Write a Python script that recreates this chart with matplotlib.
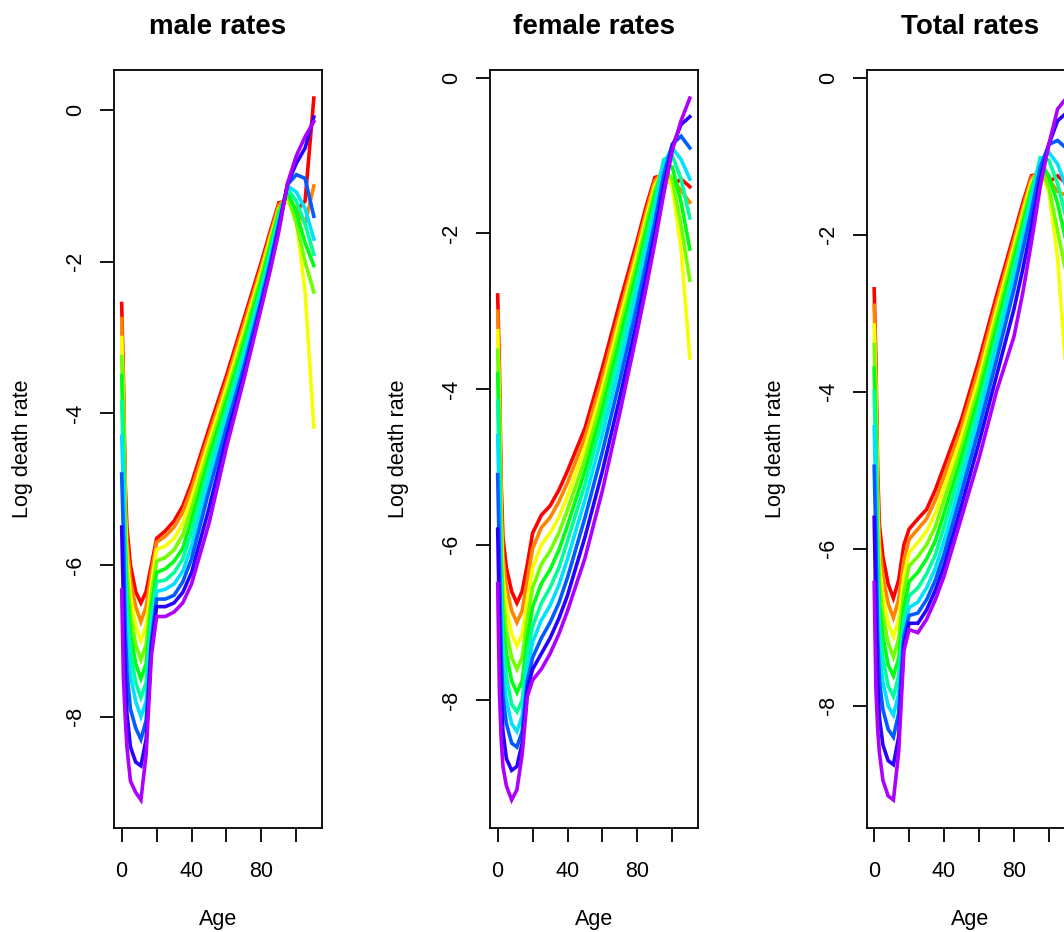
import numpy as np
import matplotlib.pyplot as plt
from matplotlib.colors import hsv_to_rgb

plt.rcParams['font.family'] = ['Liberation Sans', 'DejaVu Sans']

ages = [0, 1, 2, 3, 5, 8, 11, 14, 17, 20, 25, 30, 35, 40, 50, 60, 70, 80, 85, 90, 95, 100, 105, 110]

# log death rates, one row per period (earliest = red ... latest = purple)
male_rates = [
    [-2.55, -3.55, -4.9, -5.5, -6.0, -6.35, -6.5, -6.35, -6.0, -5.65, -5.55, -5.42, -5.22, -4.92, -4.2, -3.5, -2.75, -2.0, -1.6, -1.22, -1.2, -1.32, -1.2, 0.16],
    [-2.75, -3.7, -5.1, -5.7, -6.2, -6.55, -6.75, -6.55, -6.1, -5.7, -5.62, -5.5, -5.3, -5.0, -4.28, -3.58, -2.82, -2.06, -1.65, -1.25, -1.15, -1.3, -1.5, -1.0],
    [-3.0, -3.9, -5.3, -5.9, -6.4, -6.8, -7.0, -6.8, -6.25, -5.8, -5.75, -5.65, -5.45, -5.12, -4.37, -3.66, -2.9, -2.12, -1.7, -1.3, -1.18, -1.45, -2.4, -4.18],
    [-3.25, -4.1, -5.5, -6.1, -6.65, -7.05, -7.25, -7.05, -6.4, -5.95, -5.9, -5.8, -5.6, -5.25, -4.47, -3.75, -2.98, -2.18, -1.75, -1.32, -1.12, -1.5, -2.0, -2.4],
    [-3.5, -4.35, -5.75, -6.35, -6.9, -7.3, -7.5, -7.3, -6.55, -6.1, -6.05, -5.95, -5.78, -5.4, -4.58, -3.84, -3.07, -2.25, -1.8, -1.35, -1.08, -1.35, -1.75, -2.05],
    [-3.85, -4.65, -6.0, -6.6, -7.15, -7.55, -7.75, -7.55, -6.7, -6.22, -6.2, -6.1, -5.92, -5.57, -4.7, -3.94, -3.16, -2.33, -1.87, -1.4, -1.04, -1.2, -1.5, -1.9],
    [-4.3, -5.0, -6.35, -6.9, -7.45, -7.8, -8.0, -7.8, -6.85, -6.35, -6.32, -6.25, -6.08, -5.75, -4.85, -4.05, -3.27, -2.42, -1.95, -1.45, -1.0, -1.08, -1.3, -1.7],
    [-4.8, -5.6, -6.85, -7.4, -7.9, -8.15, -8.3, -8.05, -7.0, -6.45, -6.45, -6.4, -6.22, -5.92, -5.02, -4.18, -3.38, -2.5, -2.02, -1.5, -0.98, -0.85, -0.9, -1.4],
    [-5.5, -6.5, -7.4, -7.95, -8.4, -8.6, -8.65, -8.3, -7.1, -6.55, -6.55, -6.5, -6.36, -6.1, -5.25, -4.32, -3.48, -2.56, -2.08, -1.55, -0.97, -0.7, -0.5, -0.09],
    [-6.33, -7.5, -8.0, -8.4, -8.85, -9.0, -9.1, -8.5, -7.2, -6.68, -6.68, -6.62, -6.5, -6.25, -5.45, -4.45, -3.55, -2.6, -2.12, -1.6, -0.96, -0.6, -0.35, -0.15],
]

female_rates = [
    [-2.79, -3.74, -5.2, -5.9, -6.3, -6.6, -6.75, -6.6, -6.25, -5.85, -5.62, -5.5, -5.3, -5.05, -4.5, -3.72, -2.88, -2.08, -1.65, -1.28, -1.25, -1.38, -1.3, -1.4],
    [-3.0, -3.95, -5.45, -6.15, -6.55, -6.85, -7.0, -6.85, -6.45, -6.05, -5.78, -5.65, -5.45, -5.2, -4.62, -3.85, -3.0, -2.16, -1.72, -1.32, -1.2, -1.3, -1.45, -1.6],
    [-3.25, -4.2, -5.7, -6.4, -6.8, -7.15, -7.3, -7.15, -6.7, -6.3, -6.0, -5.85, -5.65, -5.37, -4.75, -3.98, -3.1, -2.25, -1.8, -1.38, -1.2, -1.4, -2.2, -3.6],
    [-3.5, -4.5, -6.0, -6.7, -7.1, -7.45, -7.6, -7.45, -6.95, -6.55, -6.25, -6.08, -5.85, -5.55, -4.9, -4.1, -3.22, -2.34, -1.88, -1.44, -1.15, -1.3, -1.9, -2.6],
    [-3.8, -4.8, -6.3, -7.0, -7.4, -7.75, -7.9, -7.75, -7.2, -6.8, -6.5, -6.32, -6.07, -5.75, -5.05, -4.25, -3.35, -2.45, -1.98, -1.52, -1.1, -1.15, -1.6, -2.2],
    [-4.15, -5.2, -6.65, -7.3, -7.7, -8.05, -8.15, -8.0, -7.4, -7.05, -6.75, -6.55, -6.3, -5.95, -5.22, -4.4, -3.5, -2.57, -2.08, -1.6, -1.05, -1.0, -1.3, -1.8],
    [-4.6, -5.6, -7.0, -7.6, -8.0, -8.3, -8.4, -8.2, -7.6, -7.25, -6.97, -6.78, -6.52, -6.18, -5.42, -4.58, -3.68, -2.72, -2.22, -1.72, -1.1, -0.9, -1.05, -1.3],
    [-5.1, -6.2, -7.4, -7.95, -8.3, -8.55, -8.6, -8.4, -7.75, -7.45, -7.2, -7.0, -6.75, -6.42, -5.65, -4.8, -3.88, -2.9, -2.38, -1.85, -1.25, -0.85, -0.75, -0.9],
    [-5.8, -7.0, -7.9, -8.4, -8.75, -8.9, -8.85, -8.55, -7.85, -7.6, -7.4, -7.2, -6.95, -6.65, -5.9, -5.05, -4.1, -3.1, -2.55, -2.0, -1.4, -0.88, -0.6, -0.5],
    [-6.5, -7.9, -8.5, -8.85, -9.1, -9.28, -9.15, -8.7, -7.95, -7.74, -7.6, -7.4, -7.15, -6.85, -6.17, -5.3, -4.3, -3.25, -2.7, -2.12, -1.5, -0.93, -0.55, -0.26],
]

total_rates = [
    [-2.69, -3.63, -5.0, -5.7, -6.1, -6.45, -6.63, -6.4, -5.95, -5.75, -5.62, -5.5, -5.25, -4.95, -4.35, -3.6, -2.78, -2.0, -1.6, -1.25, -1.22, -1.33, -1.25, -1.35],
    [-2.9, -3.8, -5.25, -5.95, -6.35, -6.7, -6.88, -6.65, -6.15, -5.88, -5.75, -5.62, -5.38, -5.08, -4.45, -3.7, -2.87, -2.07, -1.66, -1.28, -1.18, -1.3, -1.45, -1.5],
    [-3.15, -4.05, -5.5, -6.2, -6.6, -6.95, -7.12, -6.9, -6.35, -6.05, -5.92, -5.78, -5.55, -5.22, -4.57, -3.82, -2.97, -2.15, -1.73, -1.33, -1.17, -1.45, -2.3, -3.8],
    [-3.4, -4.3, -5.78, -6.45, -6.85, -7.2, -7.38, -7.15, -6.55, -6.22, -6.1, -5.95, -5.72, -5.38, -4.7, -3.94, -3.07, -2.23, -1.8, -1.38, -1.12, -1.4, -1.95, -2.5],
    [-3.7, -4.6, -6.05, -6.72, -7.12, -7.48, -7.62, -7.4, -6.75, -6.42, -6.3, -6.13, -5.9, -5.55, -4.83, -4.05, -3.18, -2.32, -1.88, -1.44, -1.07, -1.25, -1.6, -2.1],
    [-4.0, -4.95, -6.35, -7.0, -7.4, -7.75, -7.88, -7.62, -6.9, -6.6, -6.5, -6.32, -6.08, -5.72, -4.97, -4.17, -3.3, -2.42, -1.96, -1.5, -1.02, -1.05, -1.35, -1.8],
    [-4.45, -5.35, -6.7, -7.3, -7.7, -8.0, -8.12, -7.85, -7.02, -6.75, -6.68, -6.5, -6.25, -5.9, -5.12, -4.3, -3.43, -2.55, -2.07, -1.58, -1.05, -0.95, -1.1, -1.4],
    [-4.95, -5.9, -7.15, -7.68, -8.05, -8.3, -8.4, -8.1, -7.12, -6.85, -6.82, -6.65, -6.4, -6.07, -5.28, -4.47, -3.6, -2.7, -2.2, -1.7, -1.15, -0.85, -0.8, -0.9],
    [-5.6, -6.8, -7.7, -8.15, -8.5, -8.7, -8.75, -8.4, -7.22, -6.95, -6.95, -6.78, -6.53, -6.22, -5.45, -4.65, -3.8, -2.95, -2.45, -1.9, -1.3, -0.85, -0.55, -0.45],
    [-6.43, -7.8, -8.3, -8.6, -8.95, -9.15, -9.2, -8.6, -7.3, -7.03, -7.07, -6.9, -6.65, -6.35, -5.6, -4.85, -4.0, -3.3, -2.75, -2.1, -1.4, -0.85, -0.4, -0.26],
]

titles = ['male rates', 'female rates', 'Total rates']
x_ticks = [0, 20, 40, 60, 80, 100]
x_tick_labels = ['0', '', '40', '', '80', '']
y_ticks = [0, -2, -4, -6, -8]

W, H = 1064, 932
fig = plt.figure(figsize=(W / 100, H / 100), dpi=100)
lefts = [114, 490, 866.5]

for title, rates, left in zip(titles, [male_rates, female_rates, total_rates], lefts):
    ax = fig.add_axes([left / W, (H - 828) / H, 207.5 / W, (828 - 70) / H])
    n = len(rates)
    for i, r in enumerate(rates):
        col = hsv_to_rgb([0.78 * i / (n - 1), 1.0, 1.0])
        ax.plot(ages, r, color=col, lw=2.6, solid_joinstyle='miter')

    # R style axis range: data range plus 4% on each side
    lo = min(min(r) for r in rates)
    hi = max(max(r) for r in rates)
    rng = hi - lo
    ax.set_ylim(lo - 0.04 * rng, hi + 0.04 * rng)
    ax.set_xlim(-0.04 * 110, 110 * 1.04)

    ax.set_xticks(x_ticks)
    ax.set_xticklabels(x_tick_labels, fontsize=15.5)
    ax.set_yticks(y_ticks)
    ax.set_yticklabels([str(v) for v in y_ticks], fontsize=15.5, rotation=90, va='center')
    ax.tick_params(axis='both', length=10, width=1.3, color='black', direction='out')
    ax.tick_params(axis='x', pad=13.5)
    ax.tick_params(axis='y', pad=10)
    for sp in ax.spines.values():
        sp.set_linewidth(1.3)
        sp.set_color('black')

    ax.set_title(title, fontsize=20, fontweight='bold', pad=26)
    ax.set_xlabel('Age', fontsize=15.5, labelpad=20)
    ax.set_ylabel('Log death rate', fontsize=15.5, labelpad=23)

plt.savefig('out.png', dpi=100)
